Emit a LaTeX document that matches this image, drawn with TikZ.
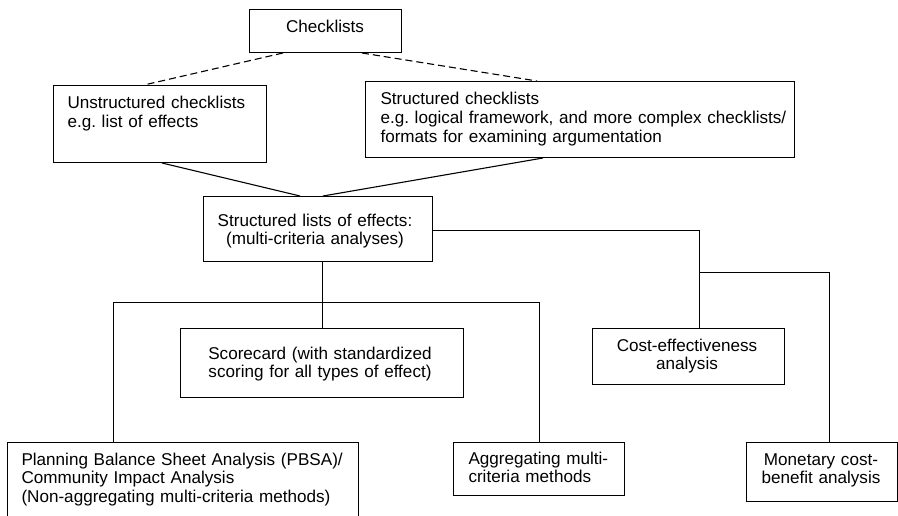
\documentclass[tikz,border=0pt]{standalone}
\usepackage{fontspec}
\setmainfont{Liberation Sans}
\usetikzlibrary{calc}
\frenchspacing
\begin{document}
\begin{tikzpicture}[x=1pt, y=-1pt, line width=1pt,
  box/.style={draw, rectangle, inner sep=0pt, anchor=north west},
  txt/.style={inner sep=0pt, font=\fontsize{17.1}{18.8}\selectfont},
  link/.style={draw, line width=1.1pt},
  dashlink/.style={link, dash pattern=on 7pt off 4pt}]
\useasboundingbox (0,0) rectangle (898,516);
\clip (0,0) rectangle (898,516);

% boxes
\node[box, minimum width=152pt, minimum height=43pt] (check)  at (249,9)   {};
\node[box, minimum width=213pt, minimum height=77pt] (unstr)  at (52.5,85) {};
\node[box, minimum width=429pt, minimum height=76pt] (struct) at (365,81)  {};
\node[box, minimum width=229pt, minimum height=65pt] (lists)  at (203,196) {};
\node[box, minimum width=283pt, minimum height=69pt] (score)  at (180,328) {};
\node[box, minimum width=192pt, minimum height=56pt] (cost)   at (592,328) {};
\node[box, minimum width=351pt, minimum height=90pt] (pbsa)   at (7,442)   {};
\node[box, minimum width=171pt, minimum height=53pt] (agg)    at (453,442) {};
\node[box, minimum width=151pt, minimum height=59pt] (money)  at (746,442) {};

% texts
\node[txt, anchor=base] (tcheck) at (325,33) {Checklists};
\node[txt, anchor=base west, text width=220pt, align=left] (tunstr) at (67,109)
  {Unstructured checklists\\e.g. list of effects};
\node[txt, anchor=base west, text width=410pt, align=left] (tstruct) at (380,105)
  {Structured checklists\\e.g. logical framework, and more complex checklists/\\formats for examining argumentation};
\node[txt, anchor=base, text width=220pt, align=center] (tlists) at (315,226)
  {Structured lists of effects:\\(multi-criteria analyses)};
\node[txt, anchor=base, text width=270pt, align=center] (tscore) at (320,359)
  {Scorecard (with standardized\\scoring for all types of effect)};
\node[txt, anchor=base, text width=180pt, align=center] (tcost) at (687,351)
  {Cost-effectiveness\\analysis};
\node[txt, anchor=base west, text width=340pt, align=left] (tpbsa) at (21,465)
  {Planning Balance Sheet Analysis (PBSA)/\\Community Impact Analysis\\(Non-aggregating multi-criteria methods)};
\node[txt, anchor=base west, text width=160pt, align=left] (tagg) at (468,464)
  {Aggregating multi-\\criteria methods};
\node[txt, anchor=base, text width=145pt, align=center] (tmoney) at (821,465)
  {Monetary cost-\\benefit analysis};

% junction points of the tree lines
\coordinate (jl) at ($(lists.north west)+(119.5,106.5)$);
\coordinate (jr) at ($(lists.north east)+(266.5,34.5)$);
\coordinate (jm) at ($(lists.north east)+(266.5,76.5)$);

% checklists split into two kinds
\draw[dashlink] ($(check.south west)+(34,0)$) -- ($(unstr.north west)+(91.5,0)$);
\draw[dashlink] ($(check.south west)+(113,0)$) -- ($(struct.north west)+(172,0)$);

% both kinds lead to the structured lists
\draw[link] ($(unstr.south west)+(109.5,0)$) -- ($(lists.north west)+(97,0)$);
\draw[link] ($(struct.south west)+(178,0)$) -- ($(lists.north west)+(120,0)$);

% multi-criteria branch
\draw[link] (lists.south west -| jl) -- (score.north west -| jl);
\draw[link] (pbsa.north west -| 113.5,0) |- (jl) -| (agg.north west -| 539.5,0);

% monetary branch
\draw[link] ($(lists.north east)+(0,34.5)$) -- (jr) -- (cost.north west -| jr);
\draw[link] (jm) -| (money.north west -| 829.5,0);
\end{tikzpicture}
\end{document}
